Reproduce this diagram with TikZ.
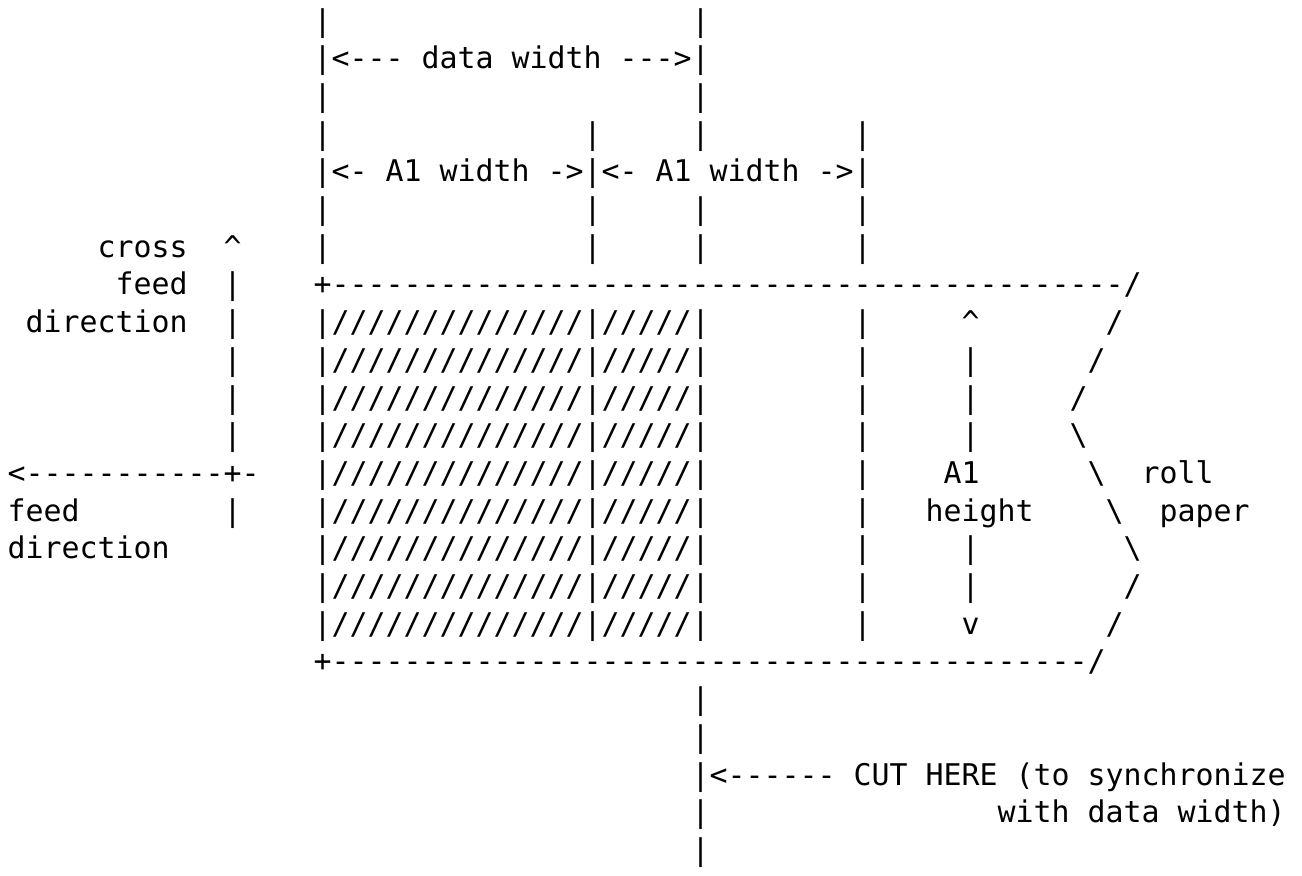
\documentclass[tikz,border=0pt]{standalone}
\usepackage{fontspec}
\setmonofont{DejaVu Sans Mono}
\begin{document}
\begin{tikzpicture}[x=1pt,y=-1pt,
  asc/.style={anchor=base west,inner sep=0pt,outer sep=0pt,
    font=\ttfamily\fontsize{29.9pt}{37.7pt}\selectfont}]
\useasboundingbox (0,0) rectangle (1302,876);
\def\putc#1#2#3#4{\node[asc] (#1) at ({7.7+18*#2},{31+37.7*(#3-1)}) {#4};}
\def\dten{----------}
\def\boxrow{|//////////////|/////|}
% top dimension lines
\putc{a1}{17}{1}{|}\putc{b1}{38}{1}{|}
\putc{dw}{17}{2}{|<--- data width --->|}
\putc{a3}{17}{3}{|}\putc{b3}{38}{3}{|}
\putc{a4}{17}{4}{|}\putc{c4}{32}{4}{|}\putc{b4}{38}{4}{|}\putc{d4}{47}{4}{|}
\putc{aw}{17}{5}{|<- A1 width ->|<- A1 width ->|}
\putc{a6}{17}{6}{|}\putc{c6}{32}{6}{|}\putc{b6}{38}{6}{|}\putc{d6}{47}{6}{|}
\putc{cross}{5}{7}{cross}\putc{up}{12}{7}{\textasciicircum}
\putc{a7}{17}{7}{|}\putc{c7}{32}{7}{|}\putc{b7}{38}{7}{|}\putc{d7}{47}{7}{|}
% paper box
\putc{feed1}{6}{8}{feed}\putc{v8}{12}{8}{|}
\putc{top}{17}{8}{+\dten\dten\dten\dten----/}
\putc{dir1}{1}{9}{direction}\putc{v9}{12}{9}{|}\putc{r9}{17}{9}{\boxrow}
\putc{e9}{47}{9}{|}\putc{h9}{53}{9}{\textasciicircum}\putc{s9}{61}{9}{/}
\putc{v10}{12}{10}{|}\putc{r10}{17}{10}{\boxrow}
\putc{e10}{47}{10}{|}\putc{h10}{53}{10}{|}\putc{s10}{60}{10}{/}
\putc{v11}{12}{11}{|}\putc{r11}{17}{11}{\boxrow}
\putc{e11}{47}{11}{|}\putc{h11}{53}{11}{|}\putc{s11}{59}{11}{/}
\putc{v12}{12}{12}{|}\putc{r12}{17}{12}{\boxrow}
\putc{e12}{47}{12}{|}\putc{h12}{53}{12}{|}\putc{s12}{59}{12}{\textbackslash}
\putc{feedarrow}{0}{13}{<-----------+-}\putc{r13}{17}{13}{\boxrow}
\putc{e13}{47}{13}{|}\putc{a1h}{52}{13}{A1}\putc{s13}{60}{13}{\textbackslash}\putc{roll}{63}{13}{roll}
\putc{feed2}{0}{14}{feed}\putc{v14}{12}{14}{|}\putc{r14}{17}{14}{\boxrow}
\putc{e14}{47}{14}{|}\putc{height}{51}{14}{height}\putc{s14}{61}{14}{\textbackslash}\putc{paper}{64}{14}{paper}
\putc{dir2}{0}{15}{direction}\putc{r15}{17}{15}{\boxrow}
\putc{e15}{47}{15}{|}\putc{h15}{53}{15}{|}\putc{s15}{62}{15}{\textbackslash}
\putc{r16}{17}{16}{\boxrow}
\putc{e16}{47}{16}{|}\putc{h16}{53}{16}{|}\putc{s16}{62}{16}{/}
\putc{r17}{17}{17}{\boxrow}
\putc{e17}{47}{17}{|}\putc{h17}{53}{17}{v}\putc{s17}{61}{17}{/}
\putc{bottom}{17}{18}{+\dten\dten\dten\dten--/}
% cut line
\putc{c19}{38}{19}{|}\putc{c20}{38}{20}{|}
\putc{cut}{38}{21}{|<------ CUT HERE (to synchronize}
\putc{c22}{38}{22}{|}\putc{with}{55}{22}{with data width)}
\putc{c23}{38}{23}{|}
\end{tikzpicture}
\end{document}
